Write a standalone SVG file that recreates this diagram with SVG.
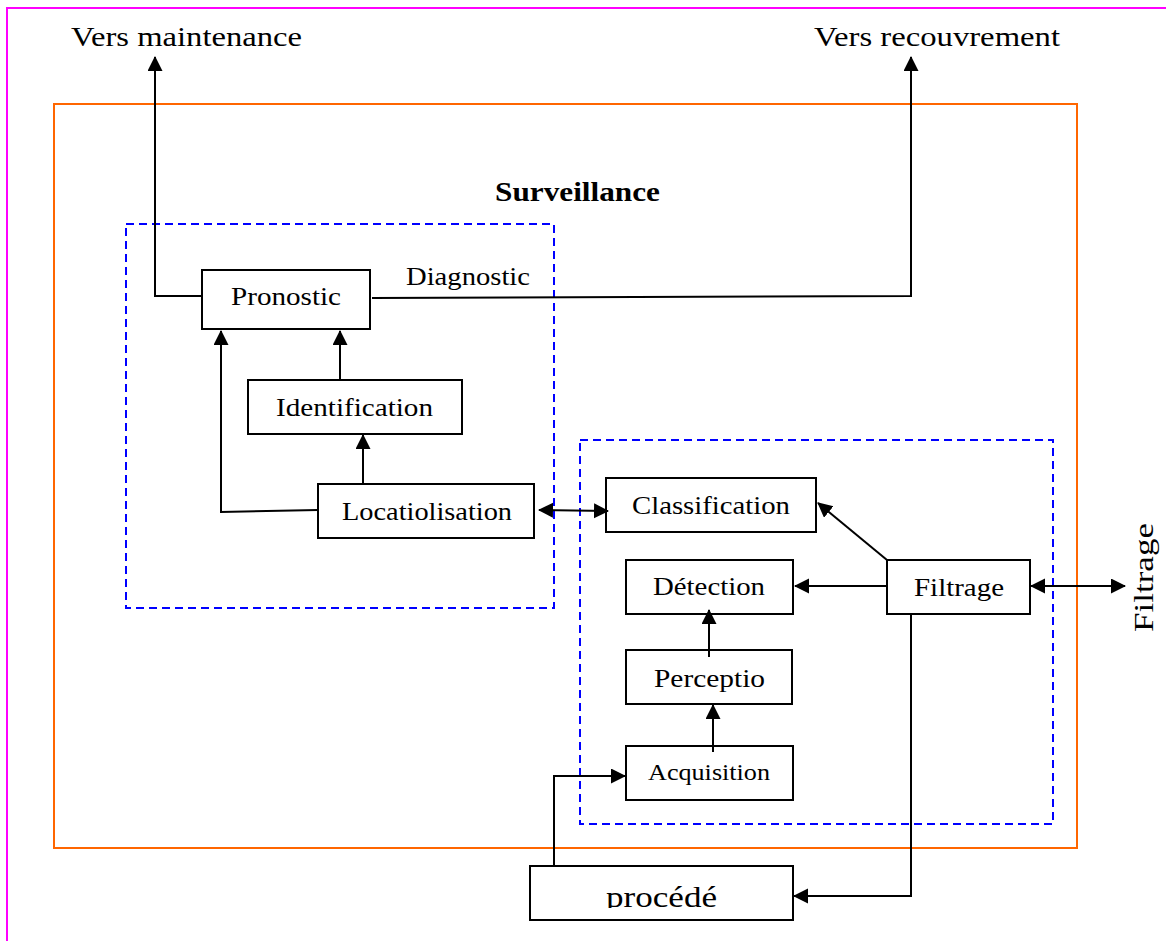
<svg xmlns="http://www.w3.org/2000/svg" width="1166" height="941" viewBox="0 0 1166 941">
  <style>
    text { font-family: "Liberation Serif", "Times New Roman", serif; fill: #000; }
    .lbl { font-size: 26px; }
    .big { font-size: 28px; }
    .box { fill: #fff; stroke: #000; stroke-width: 2; }
    .grp { fill: none; stroke: #0000ff; stroke-width: 2; stroke-dasharray: 8 5; }
    .link { fill: none; stroke: #000; stroke-width: 2; }
  </style>
  <defs>
    <marker id="arrow" markerUnits="userSpaceOnUse" markerWidth="16" markerHeight="16" refX="14" refY="7.5" orient="auto-start-reverse">
      <path d="M0,0 L15,7.5 L0,15 z" fill="#000"/>
    </marker>
    <clipPath id="procClip">
      <rect x="530" y="866" width="263" height="42"/>
    </clipPath>
  </defs>

  <rect width="1166" height="941" fill="#fff"/>

  <!-- page frame -->
  <path d="M7,941 L7,8 L1166,8" fill="none" stroke="#ff00ff" stroke-width="2"/>

  <!-- Surveillance system boundary -->
  <g id="surveillance">
    <rect x="54" y="104" width="1023" height="744" fill="none" stroke="#ff6600" stroke-width="2"/>
    <text x="495" y="201" class="big" font-weight="bold" textLength="165" lengthAdjust="spacingAndGlyphs">Surveillance</text>
  </g>

  <!-- diagnostic sub-system and detection sub-system -->
  <g id="groupes">
    <rect class="grp" x="126" y="224" width="428" height="384"/>
    <rect class="grp" x="580" y="440" width="473" height="384"/>
  </g>

  <g id="pronostic">
    <rect class="box" x="202" y="270" width="168" height="59"/>
    <text x="231" y="305" class="lbl" textLength="110" lengthAdjust="spacingAndGlyphs">Pronostic</text>
  </g>
  <g id="identification">
    <rect class="box" x="248" y="380" width="214" height="54"/>
    <text x="276" y="416" class="lbl" textLength="157" lengthAdjust="spacingAndGlyphs">Identification</text>
  </g>
  <g id="localisation">
    <rect class="box" x="318" y="484" width="216" height="54"/>
    <text x="342" y="520" class="lbl" textLength="170" lengthAdjust="spacingAndGlyphs">Locatiolisation</text>
  </g>
  <g id="classification">
    <rect class="box" x="606" y="478" width="210" height="54"/>
    <text x="632" y="514" class="lbl" textLength="158" lengthAdjust="spacingAndGlyphs">Classification</text>
  </g>
  <g id="detection">
    <rect class="box" x="626" y="560" width="167" height="54"/>
    <text x="653" y="595" class="lbl" textLength="112" lengthAdjust="spacingAndGlyphs">Détection</text>
  </g>
  <g id="filtrage">
    <rect class="box" x="887" y="560" width="143" height="54"/>
    <text x="914" y="596" class="lbl" textLength="90" lengthAdjust="spacingAndGlyphs">Filtrage</text>
  </g>
  <g id="perception">
    <rect class="box" x="626" y="650" width="166" height="54"/>
    <text x="654" y="687" class="lbl" textLength="111" lengthAdjust="spacingAndGlyphs">Perceptio</text>
  </g>
  <g id="acquisition">
    <rect class="box" x="626" y="746" width="167" height="54"/>
    <text x="648" y="780" font-size="23" textLength="122" lengthAdjust="spacingAndGlyphs">Acquisition</text>
  </g>
  <g id="procede">
    <rect class="box" x="530" y="866" width="263" height="54"/>
    <text x="606" y="907" font-size="30" textLength="111" lengthAdjust="spacingAndGlyphs" clip-path="url(#procClip)">procédé</text>
  </g>

  <!-- outputs -->
  <g id="sorties">
    <text x="71" y="46" class="big" textLength="231" lengthAdjust="spacingAndGlyphs">Vers maintenance</text>
    <text x="814" y="46" class="big" textLength="246" lengthAdjust="spacingAndGlyphs">Vers recouvrement</text>
    <text transform="translate(1153,632) rotate(-90)" x="0" y="0" font-size="27" textLength="109" lengthAdjust="spacingAndGlyphs">Filtrage</text>
  </g>

  <g id="connecteurs">
    <path class="link" d="M202,296 L155,296 L155,57" marker-end="url(#arrow)"/>
    <path class="link" d="M372,298 L911,296 L911,57" marker-end="url(#arrow)"/>
    <text x="406" y="285" class="lbl" textLength="124" lengthAdjust="spacingAndGlyphs">Diagnostic</text>
    <path class="link" d="M340,380 L340,331" marker-end="url(#arrow)"/>
    <path class="link" d="M318,510 L221,512 L221,331" marker-end="url(#arrow)"/>
    <path class="link" d="M363,484 L363,435" marker-end="url(#arrow)"/>
    <path class="link" d="M539,510 L608,511" marker-start="url(#arrow)" marker-end="url(#arrow)"/>
    <path class="link" d="M887,560 L818,503" marker-end="url(#arrow)"/>
    <path class="link" d="M887,586 L795,586" marker-end="url(#arrow)"/>
    <path class="link" d="M1031,586 L1125,586" marker-start="url(#arrow)" marker-end="url(#arrow)"/>
    <path class="link" d="M709,657 L709,610" marker-end="url(#arrow)"/>
    <path class="link" d="M713,752 L713,705" marker-end="url(#arrow)"/>
    <path class="link" d="M554,866 L554,776 L625,776" marker-end="url(#arrow)"/>
    <path class="link" d="M911,614 L911,896 L794,896" marker-end="url(#arrow)"/>
  </g>
</svg>
